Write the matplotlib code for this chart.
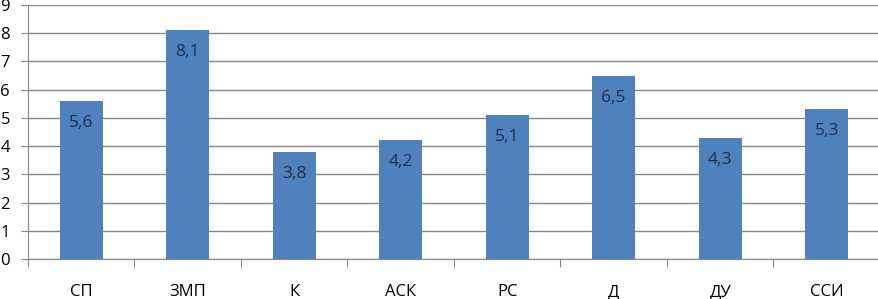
import matplotlib
matplotlib.use("Agg")
import matplotlib.pyplot as plt

categories = ["СП", "ЗМП", "К", "АСК", "РС", "Д", "ДУ", "ССИ"]
values = [5.6, 8.1, 3.8, 4.2, 5.1, 6.5, 4.3, 5.3]
labels = ["5,6", "8,1", "3,8", "4,2", "5,1", "6,5", "4,3", "5,3"]

W, H = 879, 299
fig = plt.figure(figsize=(W / 100, H / 100), dpi=100)
left, right, top, bottom = 28, 880, 5, 259
ax = fig.add_axes([left / W, 1 - bottom / H, (right - left) / W, (bottom - top) / H])

fam = ['Open Sans', 'DejaVu Sans']
grid_c = "#868686"
x = list(range(len(categories)))
ax.bar(x, values, width=0.4, color="#4F81BD", zorder=3)
for xi, v, lab in zip(x, values, labels):
    ax.annotate(lab, (xi, v), xytext=(0, -22), textcoords="offset pixels",
                ha="center", va="center", fontsize=12.5, color="#1F2F4F", zorder=4,
                family=fam)

ax.set_xlim(-0.5, len(categories) - 0.5)
ax.set_ylim(0, 9)
ax.set_yticks(range(10))
ax.set_yticklabels([str(i) for i in range(10)], fontsize=12, family=fam)
ax.yaxis.grid(True, color=grid_c, linewidth=1)
ax.set_axisbelow(True)
ax.set_xticks([i - 0.5 for i in range(len(categories) + 1)], minor=False)
ax.set_xticklabels([])
ax.set_xticks(x, minor=True)
ax.set_xticklabels(categories, minor=True, fontsize=12, family=fam)
ax.tick_params(axis='x', which='minor', length=0, pad=18)
ax.tick_params(axis='x', which='major', length=6, color=grid_c)
ax.tick_params(axis='y', length=5, color=grid_c, pad=8)
for s in ["top", "right"]:
    ax.spines[s].set_visible(False)
for s in ["left", "bottom"]:
    ax.spines[s].set_color(grid_c)
fig.savefig("out.png", dpi=100)
